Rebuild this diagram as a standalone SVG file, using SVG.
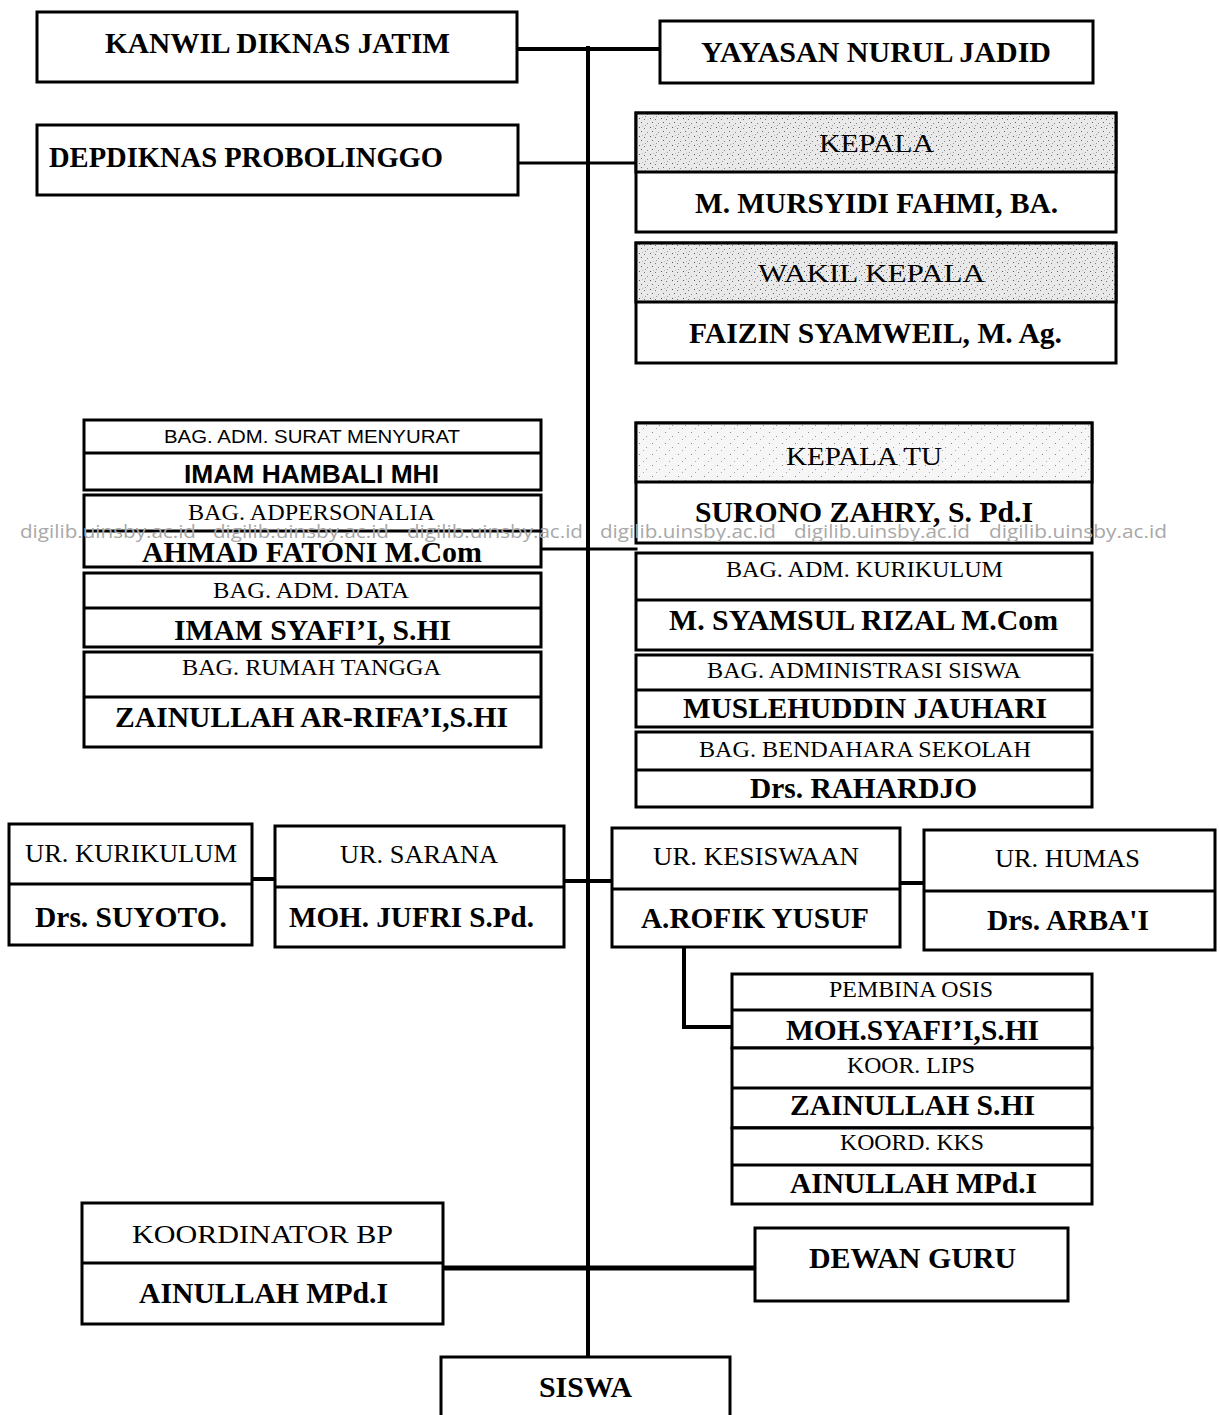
<svg xmlns="http://www.w3.org/2000/svg" width="1220" height="1415" viewBox="0 0 1220 1415">
<style>
.box{fill:#fff;stroke:#000;stroke-width:3}
.hd{stroke:#000;stroke-width:3}
.dv{stroke:#000;stroke-width:3}
.cn{stroke:#000;fill:none;stroke-linecap:square}
text{fill:#000;font-family:"Liberation Serif","Times New Roman",serif}
.b{font-weight:bold;font-size:29px}
.r{font-size:26px}
.rs{font-size:23px}
.sa{font-family:"Liberation Sans",Arial,sans-serif;font-size:19px}
.sb{font-family:"Liberation Sans",Arial,sans-serif;font-weight:bold;font-size:26px}
.wm{font-family:"Open Sans","Liberation Sans",sans-serif;font-size:19px;fill:#a8a8a8}
</style>
<defs>
<pattern id="spk" width="11" height="9" patternUnits="userSpaceOnUse">
<rect width="11" height="9" fill="#e9e9e9"/>
<rect x="1" y="1" width="1" height="1" fill="#555"/>
<rect x="6" y="2" width="1" height="1" fill="#777"/>
<rect x="3" y="5" width="1" height="1" fill="#666"/>
<rect x="9" y="6" width="1" height="1" fill="#888"/>
<rect x="7" y="8" width="1" height="1" fill="#999"/>
<rect x="4" y="0" width="1" height="1" fill="#bbb"/>
</pattern>
<pattern id="spk2" width="13" height="11" patternUnits="userSpaceOnUse">
<rect width="13" height="11" fill="#f6f6f6"/>
<rect x="2" y="3" width="1" height="1" fill="#888"/>
<rect x="9" y="7" width="1" height="1" fill="#999"/>
<rect x="6" y="10" width="1" height="1" fill="#aaa"/>
</pattern>
</defs>
<rect width="1220" height="1415" fill="#fff"/>

<g id="connectors">
<line class="cn" x1="588" y1="48" x2="588" y2="1357" stroke-width="4"/>
<line class="cn" x1="517" y1="49" x2="660" y2="49" stroke-width="4"/>
<line class="cn" x1="517" y1="163" x2="636" y2="163" stroke-width="3"/>
<line class="cn" x1="541" y1="549" x2="636" y2="549" stroke-width="3"/>
<line class="cn" x1="252" y1="879" x2="275" y2="879" stroke-width="4"/>
<line class="cn" x1="564" y1="881" x2="612" y2="881" stroke-width="4"/>
<line class="cn" x1="900" y1="883" x2="924" y2="883" stroke-width="4"/>
<polyline class="cn" points="684,947 684,1027 732,1027" stroke-width="4"/>
<line class="cn" x1="443" y1="1268" x2="755" y2="1268" stroke-width="5"/>
</g>

<g id="kanwil">
<rect class="box" x="37" y="12" width="480" height="70"/>
<text class="b" x="105" y="53" font-size="30" textLength="345" lengthAdjust="spacingAndGlyphs">KANWIL DIKNAS JATIM</text>
</g>
<g id="yayasan">
<rect class="box" x="660" y="21" width="433" height="62"/>
<text class="b" x="701" y="62" font-size="30" textLength="350" lengthAdjust="spacingAndGlyphs">YAYASAN NURUL JADID</text>
</g>
<g id="depdiknas">
<rect class="box" x="37" y="125" width="481" height="70"/>
<text class="b" x="49" y="167" font-size="30" textLength="394" lengthAdjust="spacingAndGlyphs">DEPDIKNAS PROBOLINGGO</text>
</g>
<g id="kepala">
<rect class="box" x="636" y="113" width="480" height="119"/>
<rect class="hd" x="636" y="113" width="480" height="59" fill="url(#spk)"/>
<text class="r" x="819" y="152" textLength="115" lengthAdjust="spacingAndGlyphs">KEPALA</text>
<text class="b" x="695" y="213" textLength="363" lengthAdjust="spacingAndGlyphs">M. MURSYIDI FAHMI, BA.</text>
</g>
<g id="wakil-kepala">
<rect class="box" x="636" y="243" width="480" height="120"/>
<rect class="hd" x="636" y="243" width="480" height="59" fill="url(#spk)"/>
<text class="r" x="758" y="282" textLength="227" lengthAdjust="spacingAndGlyphs">WAKIL KEPALA</text>
<text class="b" x="689" y="343" textLength="373" lengthAdjust="spacingAndGlyphs">FAIZIN SYAMWEIL, M. Ag.</text>
</g>

<g id="bag-surat">
<rect class="box" x="84" y="420" width="457" height="70"/>
<line class="dv" x1="84" y1="453" x2="541" y2="453"/>
<text class="sa" x="164" y="443" textLength="296" lengthAdjust="spacingAndGlyphs">BAG. ADM. SURAT MENYURAT</text>
<text class="sb" x="184" y="483" textLength="255" lengthAdjust="spacingAndGlyphs">IMAM HAMBALI MHI</text>
</g>
<g id="bag-adpersonalia">
<rect class="box" x="84" y="495" width="457" height="72"/>
<line class="dv" x1="84" y1="531" x2="541" y2="531"/>
<text class="rs" x="188" y="520" textLength="247" lengthAdjust="spacingAndGlyphs">BAG. ADPERSONALIA</text>
<text class="b" x="142" y="562" textLength="340" lengthAdjust="spacingAndGlyphs">AHMAD FATONI M.Com</text>
</g>
<g id="bag-data">
<rect class="box" x="84" y="573" width="457" height="74"/>
<line class="dv" x1="84" y1="608" x2="541" y2="608"/>
<text class="rs" x="213" y="598" textLength="196" lengthAdjust="spacingAndGlyphs">BAG. ADM. DATA</text>
<text class="b" x="174" y="640" textLength="277" lengthAdjust="spacingAndGlyphs">IMAM SYAFI’I, S.HI</text>
</g>
<g id="bag-rumah-tangga">
<rect class="box" x="84" y="652" width="457" height="95"/>
<line class="dv" x1="84" y1="697" x2="541" y2="697"/>
<text class="rs" x="182" y="675" textLength="259" lengthAdjust="spacingAndGlyphs">BAG. RUMAH TANGGA</text>
<text class="b" x="115" y="727" textLength="393" lengthAdjust="spacingAndGlyphs">ZAINULLAH AR-RIFA’I,S.HI</text>
</g>

<g id="kepala-tu">
<rect class="box" x="636" y="423" width="456" height="120"/>
<rect class="hd" x="636" y="423" width="456" height="59" fill="url(#spk2)"/>
<text class="r" x="786" y="465" textLength="156" lengthAdjust="spacingAndGlyphs">KEPALA TU</text>
<text class="b" x="695" y="522" textLength="338" lengthAdjust="spacingAndGlyphs">SURONO ZAHRY, S. Pd.I</text>
</g>
<g id="bag-kurikulum">
<rect class="box" x="636" y="553" width="456" height="97"/>
<line class="dv" x1="636" y1="600" x2="1092" y2="600"/>
<text class="rs" x="726" y="577" textLength="277" lengthAdjust="spacingAndGlyphs">BAG. ADM. KURIKULUM</text>
<text class="b" x="669" y="630" textLength="389" lengthAdjust="spacingAndGlyphs">M. SYAMSUL RIZAL M.Com</text>
</g>
<g id="bag-adm-siswa">
<rect class="box" x="636" y="655" width="456" height="72"/>
<line class="dv" x1="636" y1="690" x2="1092" y2="690"/>
<text class="rs" x="707" y="678" textLength="314" lengthAdjust="spacingAndGlyphs">BAG. ADMINISTRASI SISWA</text>
<text class="b" x="683" y="718" textLength="364" lengthAdjust="spacingAndGlyphs">MUSLEHUDDIN JAUHARI</text>
</g>
<g id="bag-bendahara">
<rect class="box" x="636" y="732" width="456" height="75"/>
<line class="dv" x1="636" y1="770" x2="1092" y2="770"/>
<text class="rs" x="699" y="757" textLength="332" lengthAdjust="spacingAndGlyphs">BAG. BENDAHARA SEKOLAH</text>
<text class="b" x="750" y="798" textLength="227" lengthAdjust="spacingAndGlyphs">Drs. RAHARDJO</text>
</g>

<g id="ur-kurikulum">
<rect class="box" x="9" y="824" width="243" height="121"/>
<line class="dv" x1="9" y1="884" x2="252" y2="884"/>
<text class="r" x="25" y="862" font-size="25" textLength="212" lengthAdjust="spacingAndGlyphs">UR. KURIKULUM</text>
<text class="b" x="35" y="927" textLength="192" lengthAdjust="spacingAndGlyphs">Drs. SUYOTO.</text>
</g>
<g id="ur-sarana">
<rect class="box" x="275" y="826" width="289" height="121"/>
<line class="dv" x1="275" y1="887" x2="564" y2="887"/>
<text class="r" x="340" y="863" font-size="25" textLength="158" lengthAdjust="spacingAndGlyphs">UR. SARANA</text>
<text class="b" x="289" y="927" textLength="245" lengthAdjust="spacingAndGlyphs">MOH. JUFRI S.Pd.</text>
</g>
<g id="ur-kesiswaan">
<rect class="box" x="612" y="828" width="288" height="119"/>
<line class="dv" x1="612" y1="889" x2="900" y2="889"/>
<text class="r" x="653" y="865" font-size="25" textLength="206" lengthAdjust="spacingAndGlyphs">UR. KESISWAAN</text>
<text class="b" x="641" y="928" textLength="228" lengthAdjust="spacingAndGlyphs">A.ROFIK YUSUF</text>
</g>
<g id="ur-humas">
<rect class="box" x="924" y="830" width="291" height="120"/>
<line class="dv" x1="924" y1="891" x2="1215" y2="891"/>
<text class="r" x="995" y="867" font-size="25" textLength="145" lengthAdjust="spacingAndGlyphs">UR. HUMAS</text>
<text class="b" x="987" y="930" textLength="162" lengthAdjust="spacingAndGlyphs">Drs. ARBA'I</text>
</g>

<g id="pembina-osis">
<rect class="box" x="732" y="974" width="360" height="74"/>
<line class="dv" x1="732" y1="1010" x2="1092" y2="1010"/>
<text class="rs" x="829" y="997" textLength="164" lengthAdjust="spacingAndGlyphs">PEMBINA OSIS</text>
<text class="b" x="786" y="1040" font-size="27" textLength="253" lengthAdjust="spacingAndGlyphs">MOH.SYAFI’I,S.HI</text>
</g>
<g id="koor-lips">
<rect class="box" x="732" y="1048" width="360" height="80"/>
<line class="dv" x1="732" y1="1088" x2="1092" y2="1088"/>
<line class="dv" x1="732" y1="1128" x2="1092" y2="1128" stroke-width="5"/>
<text class="rs" x="847" y="1073" textLength="128" lengthAdjust="spacingAndGlyphs">KOOR. LIPS</text>
<text class="b" x="790" y="1115" font-size="27" textLength="245" lengthAdjust="spacingAndGlyphs">ZAINULLAH S.HI</text>
</g>
<g id="koord-kks">
<rect class="box" x="732" y="1128" width="360" height="76"/>
<line class="dv" x1="732" y1="1165" x2="1092" y2="1165"/>
<text class="rs" x="840" y="1150" textLength="144" lengthAdjust="spacingAndGlyphs">KOORD. KKS</text>
<text class="b" x="790" y="1193" font-size="27" textLength="247" lengthAdjust="spacingAndGlyphs">AINULLAH MPd.I</text>
</g>

<g id="koordinator-bp">
<rect class="box" x="82" y="1203" width="361" height="121"/>
<line class="dv" x1="82" y1="1263" x2="443" y2="1263"/>
<text class="r" x="132" y="1243" font-size="28" textLength="261" lengthAdjust="spacingAndGlyphs">KOORDINATOR BP</text>
<text class="b" x="139" y="1303" font-size="27" textLength="249" lengthAdjust="spacingAndGlyphs">AINULLAH MPd.I</text>
</g>
<g id="dewan-guru">
<rect class="box" x="755" y="1228" width="313" height="73"/>
<text class="b" x="809" y="1268" font-size="27" textLength="207" lengthAdjust="spacingAndGlyphs">DEWAN GURU</text>
</g>
<g id="siswa">
<rect class="box" x="441" y="1357" width="289" height="70"/>
<text class="b" x="539" y="1397" font-size="27" textLength="93" lengthAdjust="spacingAndGlyphs">SISWA</text>
</g>

<g id="watermark">
<text class="wm" x="20" y="538" textLength="176" lengthAdjust="spacingAndGlyphs">digilib.uinsby.ac.id</text>
<text class="wm" x="213" y="538" textLength="176" lengthAdjust="spacingAndGlyphs">digilib.uinsby.ac.id</text>
<text class="wm" x="407" y="538" textLength="176" lengthAdjust="spacingAndGlyphs">digilib.uinsby.ac.id</text>
<text class="wm" x="600" y="538" textLength="176" lengthAdjust="spacingAndGlyphs">digilib.uinsby.ac.id</text>
<text class="wm" x="794" y="538" textLength="176" lengthAdjust="spacingAndGlyphs">digilib.uinsby.ac.id</text>
<text class="wm" x="989" y="538" textLength="178" lengthAdjust="spacingAndGlyphs">digilib.uinsby.ac.id</text>
</g>
</svg>
